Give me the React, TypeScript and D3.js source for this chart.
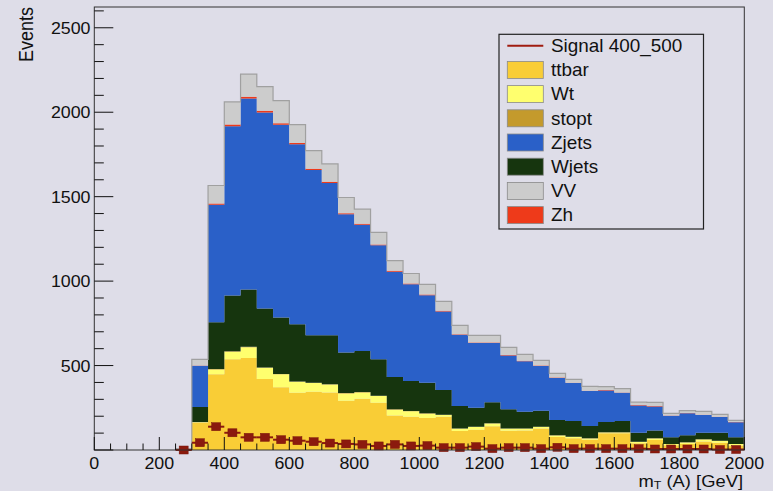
import React from 'react';
import * as d3 from 'd3';

const W = 773;
const H = 491;

// histogram bins (lower edges, GeV), width 50
const binLow = [250, 300, 350, 400, 450, 500, 550, 600, 650, 700, 750, 800, 850, 900, 950, 1000, 1050, 1100, 1150, 1200, 1250, 1300, 1350, 1400, 1450, 1500, 1550, 1600, 1650, 1700, 1750, 1800, 1850, 1900, 1950];
const BIN_WIDTH = 50;

const ttbar = [0, 162, 448, 538, 544, 420, 371, 339, 345, 341, 292, 304, 280, 204, 197, 189, 197, 112, 120, 140, 114, 116, 128, 77, 69, 61, 99, 99, 40, 59, 28, 36, 51, 43, 26];
const Wt = [0, 3, 29, 44, 65, 67, 77, 65, 51, 47, 43, 37, 39, 35, 32, 26, 10, 15, 17, 17, 13, 11, 9, 9, 9, 7, 5, 5, 8, 9, 7, 9, 11, 11, 9];
const stopt = [0, 1, 2, 2, 2, 2, 2, 2, 2, 2, 2, 2, 2, 2, 2, 2, 2, 1, 1, 1, 1, 1, 1, 1, 1, 1, 1, 1, 1, 1, 1, 1, 1, 1, 1];
const Wjets = [0, 88, 277, 331, 340, 349, 335, 338, 282, 290, 241, 243, 217, 191, 177, 181, 146, 132, 112, 124, 113, 99, 95, 91, 93, 73, 61, 67, 53, 47, 39, 41, 39, 47, 39];
const Zjets = [8, 245, 696, 1002, 1130, 1161, 1141, 1066, 978, 901, 818, 747, 674, 624, 574, 519, 465, 422, 384, 352, 318, 298, 265, 249, 224, 207, 187, 167, 162, 142, 128, 130, 105, 93, 89];
const Zh = [0, 2, 8, 10, 10, 9, 9, 8, 7, 7, 6, 6, 5, 5, 4, 4, 4, 4, 3, 3, 3, 3, 3, 3, 2, 2, 2, 2, 2, 2, 2, 2, 2, 2, 2];
const VV = [0, 36, 106, 134, 134, 144, 134, 109, 108, 106, 93, 87, 71, 60, 59, 60, 56, 52, 42, 42, 46, 38, 30, 24, 20, 26, 20, 22, 17, 22, 12, 14, 20, 14, 10];
const signal = [0, 43, 138, 102, 75, 75, 61, 55, 49, 41, 36, 33, 24, 33, 24, 26, 14, 14, 20, 8, 14, 14, 8, 16, 8, 8, 8, 8, 8, 6, 6, 6, 6, 3, 3];

const xTicks = [0, 200, 400, 600, 800, 1000, 1200, 1400, 1600, 1800, 2000];
const yTicks = [500, 1000, 1500, 2000, 2500];

const stackOrder = [
  { name: 'ttbar', values: ttbar, color: '#f9cd36' },
  { name: 'Wt', values: Wt, color: '#ffff6e' },
  { name: 'stopt', values: stopt, color: '#c49a2c' },
  { name: 'Wjets', values: Wjets, color: '#16350e' },
  { name: 'Zjets', values: Zjets, color: '#2a60c8' },
  { name: 'Zh', values: Zh, color: '#ee3a1a' },
  { name: 'VV', values: VV, color: '#cccccc' },
];
const legendNames = ['Signal 400_500', 'ttbar', 'Wt', 'stopt', 'Zjets', 'Wjets', 'VV', 'Zh'];

const BG = '#dedde8';
const SIG = '#8b1a0e';
const SX = 1.08;
const FONT = '"Liberation Sans", Arial, Helvetica, sans-serif';

const x = d3.scaleLinear().domain([0, 2000]).range([94.3, 744.3]);
const y = d3.scaleLinear().domain([0, 2623]).range([450, 7]);

function Txt(props: { x: number; y: number; size: number; anchor?: string; rotate?: boolean; children: React.ReactNode }) {
  const { x: tx, y: ty, size, anchor = 'start', rotate, children } = props;
  const tr = `translate(${tx},${ty}) scale(${SX},1)` + (rotate ? ' rotate(-90)' : '');
  return (
    <text transform={tr} fontSize={size} textAnchor={anchor} fontFamily={FONT} fill="#111">
      {children}
    </text>
  );
}

export default function App() {
  const n = binLow.length;
  let base = new Array(n).fill(0);
  const bands = stackOrder.map((layer) => {
    const lo = base.slice();
    const hi = base.map((b, i) => b + layer.values[i]);
    base = hi;
    const pts: { x: number; lo: number; hi: number }[] = [];
    for (let i = 0; i < n; i++) {
      pts.push({ x: binLow[i], lo: lo[i], hi: hi[i] });
      pts.push({ x: binLow[i] + BIN_WIDTH, lo: lo[i], hi: hi[i] });
    }
    const area = d3
      .area<{ x: number; lo: number; hi: number }>()
      .x((d) => x(d.x))
      .y0((d) => y(d.lo))
      .y1((d) => y(d.hi));
    return { ...layer, path: area(pts) || '' };
  });
  const total = base;
  const outlinePts: [number, number][] = [[binLow[0], 0]];
  for (let i = 0; i < n; i++) {
    outlinePts.push([binLow[i], total[i]]);
    outlinePts.push([binLow[i] + BIN_WIDTH, total[i]]);
  }
  outlinePts.push([binLow[n - 1] + BIN_WIDTH, 0]);
  const outline = d3
    .line<[number, number]>()
    .x((d) => x(d[0]))
    .y((d) => y(d[1]))(outlinePts) || '';

  const xMinor = d3.range(0, 2001, 50);
  const yMinor = d3.range(0, 2601, 100);
  const [x0, x1] = x.range();
  const [yb, yt] = y.range();

  const legX = 499, legY = 34.3, legW = 204.5, legH = 194.7;
  const rowY0 = 45.7, rowDY = 24.2;
  const legendColor = (name: string) => stackOrder.find((s) => s.name === name)?.color || '#000';

  return (
    <svg width={W} height={H} style={{ position: 'absolute', left: 0, top: 0, display: 'block' }}>
      <rect x={0} y={0} width={W} height={H} fill={BG} />
      {bands.map((b) => (
        <path key={b.name} d={b.path} fill={b.color} stroke="none" />
      ))}
      <path d={outline} fill="none" stroke="#a0a0a0" strokeWidth={1.2} />

      {/* signal */}
      {binLow.map((lo, i) => (
        <g key={'s' + lo}>
          <line x1={x(lo)} x2={x(lo + BIN_WIDTH)} y1={y(signal[i])} y2={y(signal[i])} stroke={SIG} strokeWidth={2} />
          <rect x={x(lo + BIN_WIDTH / 2) - 4.5} y={y(signal[i]) - 4} width={9} height={8} fill={SIG} stroke="#7a150a" strokeWidth={0.5} />
        </g>
      ))}

      {/* frame */}
      <rect x={x0} y={yt} width={x1 - x0} height={yb - yt} fill="none" stroke="#333" strokeWidth={1} />

      {/* x ticks */}
      {xMinor.map((v) => (
        <line key={'xm' + v} x1={x(v)} x2={x(v)} y1={yb} y2={yb - (v % 200 === 0 ? 13 : 6.5)} stroke="#111" strokeWidth={1} />
      ))}
      {xTicks.map((v) => (
        <Txt key={'xl' + v} x={x(v)} y={468.5} size={16.5} anchor="middle">
          {String(v)}
        </Txt>
      ))}
      {/* y ticks */}
      {yMinor.map((v) => (
        <line key={'ym' + v} x1={x0} x2={x0 + (v % 500 === 0 ? 19 : 9.5)} y1={y(v)} y2={y(v)} stroke="#111" strokeWidth={1} />
      ))}
      {yTicks.map((v) => (
        <Txt key={'yl' + v} x={90.5} y={y(v) + 6} size={16.5} anchor="end">
          {String(v)}
        </Txt>
      ))}

      {/* axis titles */}
      <Txt x={33} y={7} size={18} anchor="end" rotate>
        Events
      </Txt>
      <Txt x={743} y={486.5} size={17} anchor="end">
        <tspan>m</tspan>
        <tspan fontSize={11.5} dy={2.5}>T</tspan>
        <tspan dy={-2.5}> (A) [GeV]</tspan>
      </Txt>

      {/* legend */}
      <rect x={legX} y={legY} width={legW} height={legH} fill={BG} stroke="#222" strokeWidth={1.2} />
      {legendNames.map((name, i) => {
        const cy = rowY0 + i * rowDY;
        return (
          <g key={'lg' + name}>
            {i === 0 ? (
              <line x1={507.3} x2={543.3} y1={cy} y2={cy} stroke="#a01c10" strokeWidth={2} />
            ) : (
              <rect x={507.3} y={cy - 8.5} width={36} height={17} fill={legendColor(name)} stroke="#8a8a8a" strokeWidth={0.8} />
            )}
            <Txt x={551} y={cy + 6.3} size={17.5}>
              {name}
            </Txt>
          </g>
        );
      })}
    </svg>
  );
}
